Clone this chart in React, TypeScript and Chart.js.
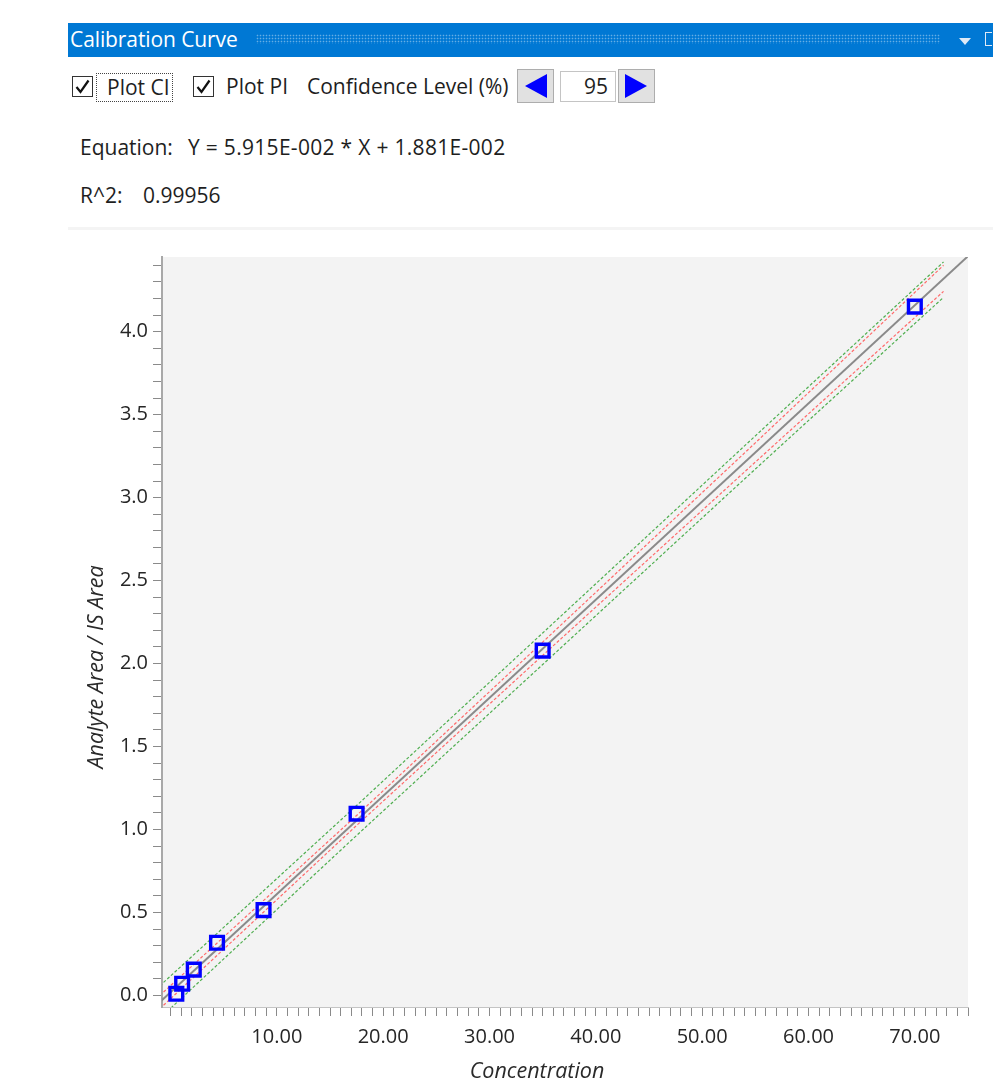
import React, { useEffect, useRef } from 'react';
import { Chart, registerables } from 'chart.js';

Chart.register(...registerables);

// ---- Data ----
const concentrations = [0.547, 1.094, 2.1875, 4.375, 8.75, 17.5, 35, 70];
const responses = [0.010, 0.070, 0.155, 0.317, 0.514, 1.095, 2.078, 4.151];

const fitX = [-1, 76];
const fitY = [-0.040, 4.514];

const bandX = [-1, 17.5, 35, 55, 72.7];
const ciUpper = [0.000, 1.084, 2.129, 3.330, 4.400];
const ciLower = [-0.080, 1.024, 2.049, 3.214, 4.243];
const piUpper = [0.058, 1.144, 2.184, 3.372, 4.420];
const piLower = [-0.138, 0.964, 1.994, 3.172, 4.207];

const xLabelValues = [10, 20, 30, 40, 50, 60, 70];
const xTickLabels = ['10.00', '20.00', '30.00', '40.00', '50.00', '60.00', '70.00'];
const yLabelValues = [0, 0.5, 1, 1.5, 2, 2.5, 3, 3.5, 4];
const yTickLabels = ['0.0', '0.5', '1.0', '1.5', '2.0', '2.5', '3.0', '3.5', '4.0'];

const xMinorTicks = Array.from({ length: 76 }, (_, i) => i); // 0..75 every 1
const yMinorTicks = Array.from({ length: 45 }, (_, i) => i / 10); // 0.0..4.4 every 0.1

const equationText = 'Y = 5.915E-002 * X + 1.881E-002';
const r2Text = '0.99956';
const xTitle = 'Concentration';
const yTitle = 'Analyte Area / IS Area';

const UI_FONT = "'Open Sans', 'Noto Sans', sans-serif";

const pts = (xs: number[], ys: number[]) => xs.map((x, i) => ({ x, y: ys[i] }));

function CheckBox({ left, top }: { left: number; top: number }) {
  return (
    <div
      style={{
        position: 'absolute',
        left,
        top,
        width: 19,
        height: 19,
        border: '1.5px solid #333',
        background: '#fff',
      }}
    >
      <svg width="19" height="19" style={{ position: 'absolute', left: 0, top: 0 }}>
        <polyline points="3.5,10 7.5,15 15.5,3.5" fill="none" stroke="#111" strokeWidth="2.2" />
      </svg>
    </div>
  );
}

function ArrowButton({ left, dir }: { left: number; dir: 'left' | 'right' }) {
  return (
    <div
      style={{
        position: 'absolute',
        left,
        top: 69,
        width: 37,
        height: 34,
        background: '#e1e1e1',
        border: '1px solid #adadad',
        boxSizing: 'border-box',
      }}
    >
      <svg width="37" height="34" style={{ position: 'absolute', left: -1, top: -1 }}>
        {dir === 'left' ? (
          <polygon points="8,17 30,5 30,29" fill="#0000ff" />
        ) : (
          <polygon points="29,17 7,5 7,29" fill="#0000ff" />
        )}
      </svg>
    </div>
  );
}

export default function App() {
  const canvasRef = useRef<HTMLCanvasElement | null>(null);

  useEffect(() => {
    const canvas = canvasRef.current;
    if (!canvas) return;

    const bgPlugin = {
      id: 'plotBg',
      beforeDraw(chart: any) {
        const { ctx, chartArea } = chart;
        ctx.save();
        ctx.fillStyle = '#f3f3f3';
        ctx.fillRect(chartArea.left, chartArea.top, chartArea.right - chartArea.left, chartArea.bottom - chartArea.top);
        ctx.restore();
      },
    };

    const titlePlugin = {
      id: 'axisTitles',
      afterDraw(chart: any) {
        const { ctx } = chart;
        ctx.save();
        ctx.fillStyle = '#2a2a2a';
        ctx.font = `italic 21.5px ${UI_FONT}`;
        ctx.textAlign = 'center';
        ctx.textBaseline = 'middle';
        ctx.fillText(xTitle, 537, 842);
        ctx.translate(97, 437);
        ctx.rotate(-Math.PI / 2);
        ctx.fillText(yTitle, 0, 0);
        ctx.restore();
      },
    };

    const lineDs = (label: string, data: any[], color: string, width: number, dash: number[]) => ({
      label,
      data,
      showLine: true,
      borderColor: color,
      backgroundColor: color,
      borderWidth: width,
      borderDash: dash,
      pointRadius: 0,
      pointHoverRadius: 0,
      fill: false,
      clip: 0,
    });

    const chart = new Chart(canvas, {
      type: 'scatter',
      data: {
        datasets: [
          {
            label: 'Standards',
            data: pts(concentrations, responses),
            pointStyle: 'rect',
            pointRadius: 9,
            pointBorderWidth: 3.4,
            borderColor: '#0000ff',
            backgroundColor: 'rgba(0,0,0,0)',
            showLine: false,
          } as any,
          lineDs('Fit', pts(fitX, fitY), '#8a8a8a', 2, []),
          lineDs('CI upper', pts(bandX, ciUpper), '#ff6a6a', 1.2, [3, 2]),
          lineDs('CI lower', pts(bandX, ciLower), '#ff6a6a', 1.2, [3, 2]),
          lineDs('PI upper', pts(bandX, piUpper), '#4fae4f', 1.2, [3, 2]),
          lineDs('PI lower', pts(bandX, piLower), '#4fae4f', 1.2, [3, 2]),
        ],
      },
      options: {
        responsive: false,
        animation: false,
        events: [],
        layout: { padding: { top: 27, right: 25, left: 0, bottom: 0 } },
        plugins: {
          legend: { display: false },
          tooltip: { enabled: false },
          title: { display: false },
        },
        scales: {
          x: {
            type: 'linear',
            min: -0.8,
            max: 75,
            afterFit: (scale: any) => {
              scale.height = 72;
            },
            afterBuildTicks: (scale: any) => {
              scale.ticks = xMinorTicks.map((v) => ({ value: v }));
            },
            border: { display: true, color: '#c4c4c4', width: 1 },
            grid: {
              drawOnChartArea: false,
              drawTicks: true,
              tickLength: 9,
              tickColor: '#8a8a8a',
              tickWidth: 1,
            },
            ticks: {
              autoSkip: false,
              maxRotation: 0,
              padding: 9,
              color: '#262626',
              font: { family: UI_FONT, size: 20 },
              callback: (v: any) => {
                const i = xLabelValues.indexOf(Math.round(Number(v) * 100) / 100);
                return i >= 0 ? xTickLabels[i] : '';
              },
            },
          },
          y: {
            type: 'linear',
            min: -0.07,
            max: 4.45,
            afterFit: (scale: any) => {
              scale.width = 162;
            },
            afterBuildTicks: (scale: any) => {
              scale.ticks = yMinorTicks.map((v) => ({ value: v }));
            },
            border: { display: true, color: '#a8a8a8', width: 2 },
            grid: {
              drawOnChartArea: false,
              drawTicks: true,
              tickLength: 9,
              tickColor: '#8a8a8a',
              tickWidth: 1,
            },
            ticks: {
              autoSkip: false,
              padding: 5,
              color: '#262626',
              font: { family: UI_FONT, size: 20 },
              callback: (v: any) => {
                const i = yLabelValues.indexOf(Math.round(Number(v) * 100) / 100);
                return i >= 0 ? yTickLabels[i] : '';
              },
            },
          },
        },
      },
      plugins: [bgPlugin, titlePlugin],
    } as any);

    return () => chart.destroy();
  }, []);

  const text = (content: string, left: number, top: number, extra: any = {}) => (
    <div
      style={{
        position: 'absolute',
        left,
        top,
        fontFamily: UI_FONT,
        fontSize: 21,
        lineHeight: '26px',
        color: '#1e1e1e',
        whiteSpace: 'nowrap',
        ...extra,
      }}
    >
      {content}
    </div>
  );

  return (
    <div
      style={{
        position: 'absolute',
        left: 0,
        top: 0,
        width: 993,
        height: 1079,
        overflow: 'hidden',
        background: '#fff',
      }}
    >
      {/* Header bar */}
      <div
        style={{
          position: 'absolute',
          left: 68,
          top: 23,
          width: 925,
          height: 34,
          background: '#0078d4',
        }}
      >
        <div
          style={{
            position: 'absolute',
            left: 2,
            top: 2,
            color: '#fff',
            fontFamily: UI_FONT,
            fontSize: 21,
            lineHeight: '28px',
            letterSpacing: '-0.1px',
            whiteSpace: 'nowrap',
          }}
        >
          Calibration Curve
        </div>
        <div
          style={{
            position: 'absolute',
            left: 188,
            top: 11,
            width: 684,
            height: 10,
            backgroundImage: 'radial-gradient(rgba(255,255,255,0.4) 0.7px, transparent 1.1px)',
            backgroundSize: '3px 3px',
          }}
        />
        <svg width="14" height="10" style={{ position: 'absolute', left: 890, top: 14 }}>
          <polygon points="1,1 13,1 7,8" fill="#dfeaf7" />
        </svg>
        <div
          style={{
            position: 'absolute',
            left: 917,
            top: 9,
            width: 6,
            height: 12,
            border: '1.5px solid #dfeaf7',
            borderRight: 'none',
          }}
        />
      </div>

      {/* Controls row */}
      <CheckBox left={72} top={76} />
      <div
        style={{
          position: 'absolute',
          left: 96,
          top: 73,
          width: 75,
          height: 27,
          border: '1px dotted #444',
          overflow: 'hidden',
        }}
      >
        {text('Plot CI', 10, 0)}
      </div>
      <CheckBox left={193} top={76} />
      {text('Plot PI', 226, 73)}
      {text('Confidence Level (%)', 307, 73)}
      <ArrowButton left={517} dir="left" />
      <div
        style={{
          position: 'absolute',
          left: 560,
          top: 71,
          width: 56,
          height: 31,
          border: '1px solid #c4c4c4',
          boxSizing: 'border-box',
          background: '#fff',
        }}
      >
        {text('95', 23, 1)}
      </div>
      <ArrowButton left={618} dir="right" />

      {/* Equation & R^2 */}
      {text('Equation:', 80, 134)}
      {text(equationText, 188, 134, { letterSpacing: '0.3px' })}
      {text('R^2:', 80, 182)}
      {text(r2Text, 143, 182)}

      {/* Separator */}
      <div
        style={{
          position: 'absolute',
          left: 68,
          top: 227,
          width: 925,
          height: 3,
          background: '#f4f4f4',
        }}
      />

      {/* Chart */}
      <canvas
        ref={canvasRef}
        width={993}
        height={849}
        style={{ position: 'absolute', left: 0, top: 230, width: 993, height: 849 }}
      />
    </div>
  );
}
